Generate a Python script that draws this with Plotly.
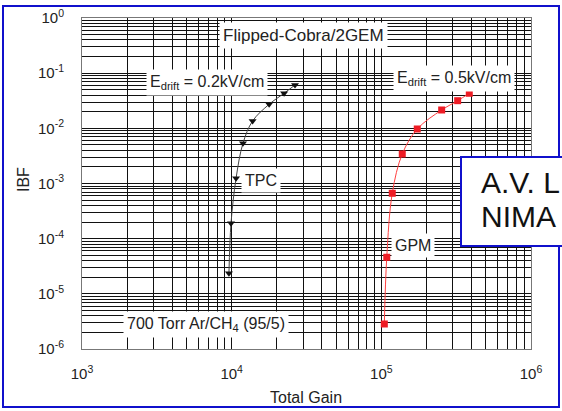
import plotly.graph_objects as go

# Data
tpc_gain = [26500, 22400, 17800, 13800, 11900, 10700, 9900, 9590]
tpc_ibf = [0.061, 0.0432, 0.0273, 0.0136, 0.00536, 0.00124, 1.9e-4, 2.36e-5]
gpm_gain = [387000, 323600, 253000, 173800, 138000, 118300, 108700, 104700]
gpm_ibf = [0.0432, 0.0317, 0.0215, 0.00973, 0.00343, 6.65e-4, 4.6e-5, 2.84e-6]

x_ticks = [1e3, 1e4, 1e5, 1e6]
x_ticktext = ["10<sup>3</sup>", "10<sup>4</sup>", "10<sup>5</sup>", "10<sup>6</sup>"]
y_ticks = [1e-6, 1e-5, 1e-4, 1e-3, 1e-2, 1e-1, 1]
y_ticktext = ["10<sup>-6</sup>", "10<sup>-5</sup>", "10<sup>-4</sup>", "10<sup>-3</sup>",
              "10<sup>-2</sup>", "10<sup>-1</sup>", "10<sup>0</sup>"]

W, H = 562, 411
L, R, T, B = 82, 31, 18, 62
PW, PH = W - L - R, H - T - B

def px(x):
    return (x - L) / PW

def py(y):
    return (H - B - y) / PH

FONT = "Liberation Sans, Arial, sans-serif"
TXT = "#222222"

fig = go.Figure()
fig.add_trace(go.Scatter(
    x=tpc_gain, y=tpc_ibf, mode="lines+markers",
    line=dict(color="#444444", width=1, shape="spline"),
    marker=dict(symbol="triangle-down", size=7, color="#111111"),
    showlegend=False))
fig.add_trace(go.Scatter(
    x=gpm_gain, y=gpm_ibf, mode="lines+markers",
    line=dict(color="#ff4040", width=1, shape="spline"),
    marker=dict(symbol="square", size=7, color="#ee1c25"),
    showlegend=False))

axis_common = dict(
    type="log", showgrid=True, gridcolor="#111111", gridwidth=1,
    showline=True, linecolor="#777777", linewidth=1, mirror=True,
    ticks="", zeroline=False, automargin=False,
    tickfont=dict(family=FONT, size=15, color=TXT),
    minor=dict(showgrid=True, gridcolor="#111111", gridwidth=1, dtick="D1", ticks=""),
)

fig.update_xaxes(range=[3, 6], tickvals=x_ticks, ticktext=x_ticktext,
                 ticklabelstandoff=11, **axis_common)
fig.update_yaxes(range=[-6, 0], tickvals=y_ticks, ticktext=y_ticktext,
                 ticklabelstandoff=14, **axis_common)

ann = []
def label(text, lx, ly, size=16):
    ann.append(dict(x=lx, y=ly, xref="x", yref="y", text=text, showarrow=False,
                    bgcolor="white", borderpad=3,
                    font=dict(family=FONT, size=size, color=TXT)))

label("Flipped-Cobra/2GEM", 4.477, -0.317, 17)
label("E<sub>drift</sub> = 0.2kV/cm", 3.832, -1.17, 16)
label("E<sub>drift</sub> = 0.5kV/cm", 5.486, -1.10, 16)
label("TPC", 4.196, -2.954, 16)
label("GPM", 5.212, -4.115, 16)
label("700 Torr Ar/CH<sub>4</sub> (95/5)", 3.828, -5.547, 16)

# axis titles
ann.append(dict(x=px(305.5), y=py(397), xref="paper", yref="paper", text="Total Gain",
                showarrow=False, xanchor="center", yanchor="middle",
                font=dict(family=FONT, size=16, color=TXT)))
ann.append(dict(x=px(23), y=py(180), xref="paper", yref="paper", text="IBF",
                showarrow=False, textangle=-90, xanchor="center", yanchor="middle",
                font=dict(family=FONT, size=16, color=TXT)))

# overlay box text
ann.append(dict(x=px(479), y=py(182.5), xref="paper", yref="paper", text="A.V. L",
                showarrow=False, xanchor="left", yanchor="middle",
                font=dict(family=FONT, size=30, color="#111111")))
ann.append(dict(x=px(479), y=py(216), xref="paper", yref="paper", text="NIMA",
                showarrow=False, xanchor="left", yanchor="middle",
                font=dict(family=FONT, size=30, color="#111111")))

shapes = [
    dict(type="rect", xref="paper", yref="paper",
         x0=px(3), x1=px(559), y0=py(407), y1=py(6),
         line=dict(color="#1010cc", width=2), fillcolor="rgba(0,0,0,0)", layer="above"),
    dict(type="rect", xref="paper", yref="paper",
         x0=px(461), x1=px(620), y0=py(246), y1=py(157),
         line=dict(color="#1010cc", width=2), fillcolor="white", layer="above"),
]

fig.update_layout(
    width=W, height=H, margin=dict(l=L, r=R, t=T, b=B, autoexpand=False),
    paper_bgcolor="white", plot_bgcolor="white",
    annotations=ann, shapes=shapes, showlegend=False,
)

fig.write_html("out.html", config={"displayModeBar": False},
               post_script="document.body.style.margin='0px';document.body.style.overflow='hidden';")
